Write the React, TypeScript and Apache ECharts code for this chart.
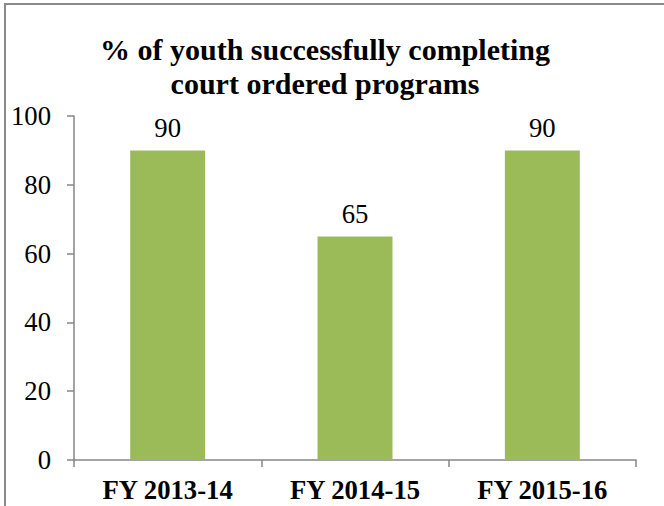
import React, { useEffect, useRef } from "react";
import * as echarts from "echarts";

const categories = ["FY 2013-14", "FY 2014-15", "FY 2015-16"];
const values = [90, 65, 90];
const titleLines = ["% of youth successfully completing", "court ordered programs"];
const yTicks = { min: 0, max: 100, interval: 20 };

const FONT = "\"Liberation Serif\", \"Times New Roman\", Tinos, serif";
const FS = 26.7;

export default function App() {
  const ref = useRef<HTMLDivElement>(null);
  useEffect(() => {
    if (!ref.current) return;
    const chart = echarts.init(ref.current, undefined, { renderer: "svg" });
    chart.setOption({
      animation: false,
      textStyle: { fontFamily: FONT },
      graphic: [
        {
          type: "rect",
          shape: { x: 5, y: 4, width: 800, height: 800 },
          style: { fill: "none", stroke: "#8a8a8a", lineWidth: 2 },
          silent: true,
        },
        ...titleLines.map((line, i) => ({
          type: "text",
          x: 325,
          y: 49 + i * 34,
          style: {
            text: line,
            fontFamily: FONT,
            fontWeight: 700,
            fontSize: 30,
            fill: "#000",
            align: "center",
            verticalAlign: "middle",
          },
        })),
      ],
      grid: { left: 74, right: 28, top: 116, bottom: 46, containLabel: false },
      xAxis: {
        type: "category",
        data: categories,
        boundaryGap: true,
        axisLine: { lineStyle: { color: "#868686", width: 1.5 } },
        axisTick: { show: true, length: 7, alignWithLabel: false, lineStyle: { color: "#868686", width: 1.5 } },
        axisLabel: {
          fontFamily: FONT,
          fontWeight: 700,
          fontSize: FS,
          color: "#000",
          margin: 16,
        },
      },
      yAxis: {
        type: "value",
        min: yTicks.min,
        max: yTicks.max,
        interval: yTicks.interval,
        splitLine: { show: false },
        axisLine: { show: true, lineStyle: { color: "#868686", width: 1.5 } },
        axisTick: { show: true, length: 7, lineStyle: { color: "#868686", width: 1.5 } },
        axisLabel: {
          fontFamily: FONT,
          fontWeight: 400,
          fontSize: FS,
          color: "#000",
          margin: 23,
        },
      },
      series: [
        {
          type: "bar",
          data: values,
          barWidth: "40%",
          itemStyle: { color: "#9BBB59" },
          label: {
            show: true,
            position: "top",
            distance: 9,
            fontFamily: FONT,
            fontWeight: 400,
            fontSize: FS,
            color: "#000",
          },
        },
      ],
    });
    return () => chart.dispose();
  }, []);
  return (
    <div
      ref={ref}
      style={{ position: "fixed", left: 0, top: 0, width: 664, height: 506, background: "#fff" }}
    />
  );
}
